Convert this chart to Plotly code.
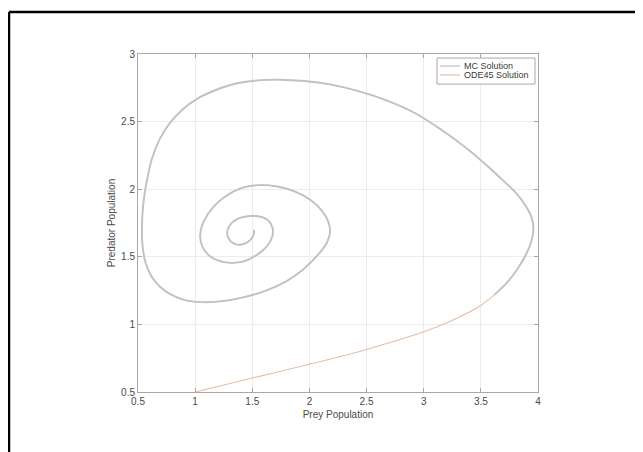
import plotly.graph_objects as go

# Trajectory (prey, predator), counter-clockwise from start
prey = [1.00, 1.50, 2.00, 2.50, 3.00, 3.30, 3.50,
        3.62, 3.73, 3.82, 3.89, 3.94, 3.96, 3.945, 3.89, 3.81, 3.70, 3.56, 3.38, 3.17,
        2.93, 2.68, 2.43, 2.18, 1.95, 1.75, 1.55, 1.35, 1.17, 1.02, 0.89, 0.78, 0.69,
        0.62, 0.575, 0.545, 0.535, 0.54, 0.565, 0.615, 0.69, 0.79, 0.91, 1.05, 1.22,
        1.42, 1.62, 1.80, 1.95, 2.07, 2.15, 2.18, 2.165, 2.11, 2.01, 1.88, 1.72, 1.56,
        1.41, 1.27, 1.16, 1.08, 1.045, 1.06, 1.12, 1.21, 1.32, 1.44, 1.55, 1.63, 1.675,
        1.675, 1.63, 1.55, 1.46, 1.37, 1.30, 1.28, 1.31, 1.37, 1.44, 1.49, 1.515, 1.515]
predator = [0.50, 0.603, 0.705, 0.815, 0.945, 1.05, 1.14,
            1.22, 1.31, 1.41, 1.51, 1.61, 1.70, 1.79, 1.88, 1.97, 2.06, 2.17, 2.30, 2.43,
            2.56, 2.655, 2.725, 2.775, 2.80, 2.81, 2.805, 2.78, 2.73, 2.67, 2.59, 2.49, 2.37,
            2.22, 2.05, 1.88, 1.72, 1.58, 1.46, 1.36, 1.28, 1.22, 1.18, 1.165, 1.17,
            1.20, 1.25, 1.32, 1.41, 1.51, 1.60, 1.68, 1.76, 1.84, 1.92, 1.98, 2.02, 2.03,
            2.01, 1.95, 1.87, 1.77, 1.67, 1.58, 1.51, 1.47, 1.455, 1.47, 1.52, 1.58, 1.65,
            1.72, 1.775, 1.80, 1.80, 1.78, 1.73, 1.67, 1.615, 1.59, 1.60, 1.63, 1.67, 1.70]
mc_start = 7
prey_mc = prey[mc_start:]
predator_mc = predator[mc_start:]

series_names = ["MC Solution", "ODE45 Solution"]
series_colors = ["#c2c2c2", "#e9bca4"]

x_ticks = [0.5, 1, 1.5, 2, 2.5, 3, 3.5, 4]
x_tick_labels = ["0.5", "1", "1.5", "2", "2.5", "3", "3.5", "4"]
y_ticks = [0.5, 1, 1.5, 2, 2.5, 3]
y_tick_labels = ["0.5", "1", "1.5", "2", "2.5", "3"]

FONT = "Liberation Sans, Arial, sans-serif"

fig = go.Figure()
fig.add_trace(go.Scatter(x=prey, y=predator, mode="lines", name=series_names[1],
                         line=dict(color=series_colors[1], width=1.1, shape="spline", smoothing=1.0)))
fig.add_trace(go.Scatter(x=prey_mc, y=predator_mc, mode="lines", name=series_names[0],
                         line=dict(color=series_colors[0], width=1.9, shape="spline", smoothing=1.0)))

axis_common = dict(showline=True, linecolor="#a8a8a8", linewidth=1, mirror="ticks",
                   ticks="inside", ticklen=4, tickcolor="#a8a8a8",
                   showgrid=True, gridcolor="#ececec", gridwidth=1, zeroline=False,
                   tickfont=dict(family=FONT, size=10, color="#4a4a4a"))

fig.update_xaxes(range=[0.5, 4], tickvals=x_ticks, ticktext=x_tick_labels,
                 title=dict(text="Prey Population", standoff=4,
                            font=dict(family=FONT, size=10, color="#4a4a4a")),
                 **axis_common)
fig.update_yaxes(range=[0.5, 3], tickvals=y_ticks, ticktext=y_tick_labels,
                 title=dict(text="Predator Population", standoff=3,
                            font=dict(family=FONT, size=10, color="#4a4a4a")),
                 **axis_common)

# custom compact legend (MATLAB style)
legend_box = dict(type="rect", xref="paper", yref="paper", x0=0.7475, x1=0.9925, y0=0.911, y1=0.988,
                  line=dict(color="#a8a8a8", width=1), fillcolor="white", layer="above")
legend_rows_y = [0.9645, 0.938]
shapes = [legend_box]
annotations = []
for name, color, yy in zip(series_names, series_colors, legend_rows_y):
    shapes.append(dict(type="line", xref="paper", yref="paper", x0=0.755, x1=0.805, y0=yy, y1=yy,
                       line=dict(color=color, width=1.2), layer="above"))
    annotations.append(dict(xref="paper", yref="paper", x=0.81, y=yy, xanchor="left", yanchor="middle",
                            text=name, showarrow=False,
                            font=dict(family=FONT, size=9, color="#3a3a3a")))

# outer black frame
shapes += [
    dict(type="line", xref="paper", yref="paper", x0=-0.3225, x1=1.35, y0=1.124, y1=1.124,
         line=dict(color="black", width=2.5)),
    dict(type="line", xref="paper", yref="paper", x0=-0.3225, x1=-0.3225, y0=1.124, y1=-0.3,
         line=dict(color="black", width=2.5)),
]

fig.update_layout(
    width=643, height=452,
    margin=dict(l=130, r=113, t=46, b=68),
    paper_bgcolor="white", plot_bgcolor="white",
    showlegend=False,
    shapes=shapes,
    annotations=annotations,
)

fig.write_html("out.html")
